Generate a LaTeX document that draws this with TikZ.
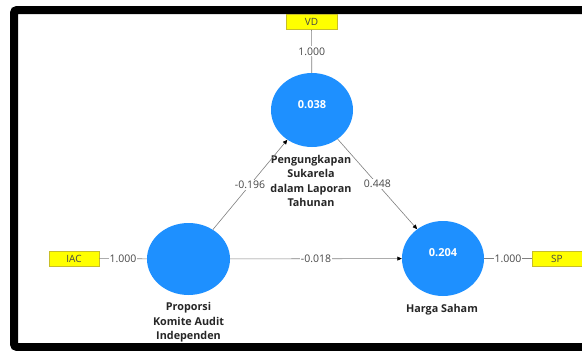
\documentclass[tikz,border=0pt]{standalone}
\usepackage{fontspec}
\setmainfont{Open Sans}
\usetikzlibrary{shapes.geometric,arrows.meta}
\definecolor{lvblue}{RGB}{30,144,255}
\definecolor{indyellow}{RGB}{255,255,0}
\definecolor{indborder}{RGB}{200,190,40}
\definecolor{lncol}{RGB}{128,128,128}
\definecolor{txtgray}{RGB}{70,70,70}
\begin{document}
\begin{tikzpicture}[x=1pt,y=-1pt,
 latent/.style={ellipse, fill=lvblue, minimum width=82pt, minimum height=74pt, inner sep=0pt},
 indic/.style={rectangle, fill=indyellow, draw=indborder, line width=0.5pt, minimum width=50pt, minimum height=15pt, inner sep=0pt, font=\fontsize{10}{11}\selectfont, text=txtgray},
 conn/.style={draw=lncol, line width=0.6pt},
 arr/.style={conn, -{Triangle[length=4.5pt,width=4pt,color=black]}},
 coef/.style={fill=white, inner sep=1pt, font=\fontsize{10.5}{11}\selectfont, text=txtgray},
 lvlabel/.style={align=center, font=\bfseries\fontsize{10.8}{14.5}\selectfont, text=black!85},
 val/.style={text=white, font=\bfseries\fontsize{11}{12}\selectfont}
]
\useasboundingbox (0,0) rectangle (582,351);
\fill[white] (0,0) rectangle (582,351);
\draw[line width=8pt, rounded corners=3pt] (600,10) -- (14,10) -- (14,347) -- (600,347);

% latent variables
\node[latent] (A) at (312,110) {};
\node[latent, minimum width=83pt, minimum height=72pt] (B) at (188.5,259) {};
\node[latent, minimum height=75pt] (C) at (443,258.5) {};

\node[val] (Aval) at (312,105) {0.038};
\node[val] (Cval) at (443,253) {0.204};

% indicators
\node[indic, minimum width=51pt] (VD) at (311.5,22) {VD};
\node[indic] (IAC) at (74,258.5) {IAC};
\node[indic] (SP) at (557,258.5) {SP};

% labels
\node[lvlabel] (Alab) at (311,181) {Pengungkapan\\Sukarela\\dalam Laporan\\Tahunan};
\node[lvlabel] (Blab) at (188.5,322.5) {Proporsi\\Komite Audit\\Independen};
\node[lvlabel] (Clab) at (442,309.5) {Harga Saham};

% outer model
\draw[conn] (VD) -- node[coef] {1.000} (A);
\draw[conn] (IAC) -- node[coef] {1.000} (B);
\draw[conn] (C) -- node[coef] {1.000} (SP);

% inner model
\draw[arr] (B) -- node[coef] {-0.196} (A);
\draw[arr] (A) -- node[coef] {0.448} (C);
\draw[arr] (B) -- node[coef] {-0.018} (C);
\end{tikzpicture}
\end{document}
